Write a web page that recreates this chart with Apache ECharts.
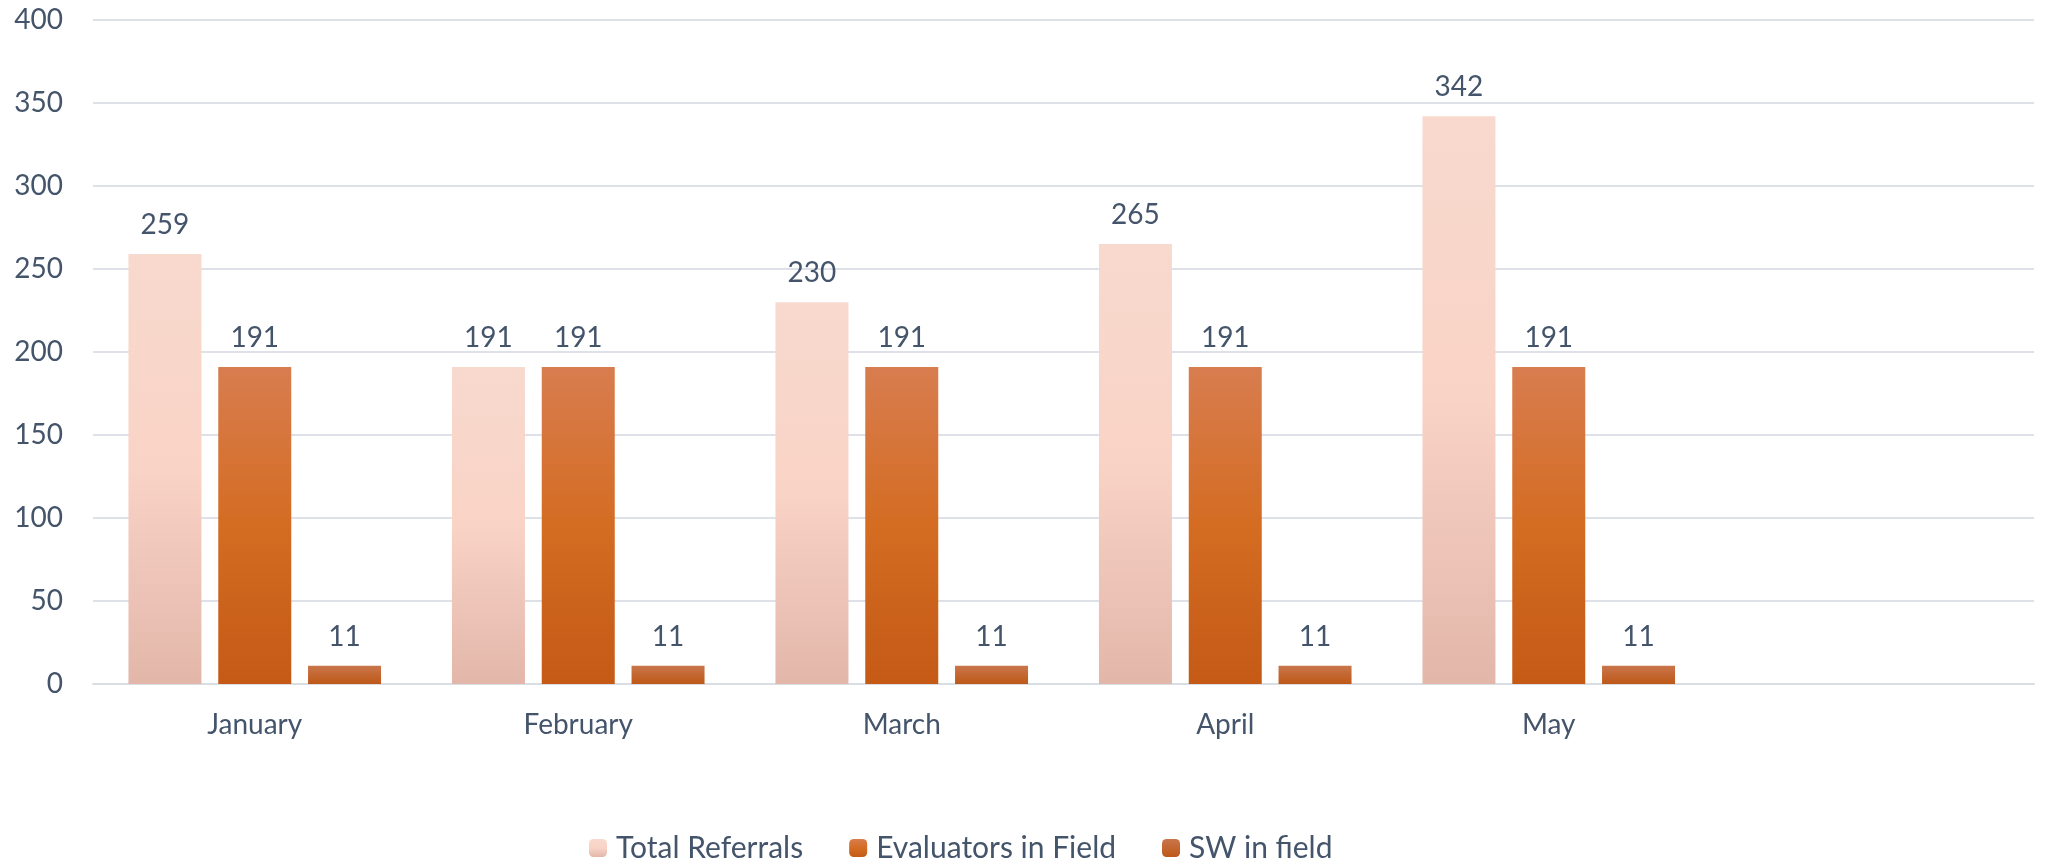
<!DOCTYPE html>
<html>
<head>
	<meta charset="utf-8">
	<title>Referrals</title>
	<script src="https://cdn.jsdelivr.net/npm/echarts@6/dist/echarts.min.js"></script>
	<style>
		html, body { margin: 0; padding: 0; background: #fff; }
	</style>
</head>
<body>
	<div id="container" style="width: 2047px;height:860px;"></div>

	<script type="text/javascript">

	// categories (last slot is empty in the original)
	var months = ['January', 'February', 'March', 'April', 'May', ''];
	var seriesNames = ['Total Referrals', 'Evaluators in Field', 'SW in field'];
	var totalReferrals = [259, 191, 230, 265, 342, null];
	var evaluators = [191, 191, 191, 191, 191, null];
	var swInField = [11, 11, 11, 11, 11, null];
	var yTicks = { min: 0, max: 400, interval: 50 };

	var textColor = '#44546A';
	var fontName = 'Lato';

	function grad(stops)
	{
		return new echarts.graphic.LinearGradient(0, 0, 0, 1, stops);
	}

	var fills = [
		grad([{offset: 0, color: '#F8D9CE'}, {offset: 0.5, color: '#F9D3C6'}, {offset: 1, color: '#E2B7AA'}]),
		grad([{offset: 0, color: '#D87D50'}, {offset: 0.5, color: '#D46C22'}, {offset: 1, color: '#C45A16'}]),
		grad([{offset: 0, color: '#C9764C'}, {offset: 1, color: '#BE5817'}])
	];

	function makeSeries(name, values, fill)
	{
		return {
			name: name,
			type: 'bar',
			data: values,
			barWidth: 73,
			barGap: '23%',
			itemStyle: { color: fill },
			label: {
				show: true,
				position: 'top',
				distance: 15,
				color: textColor,
				fontFamily: fontName,
				fontSize: 28
			}
		};
	}

	var myChart = echarts.init(document.getElementById('container'));
	myChart.setOption({
		animation: false,
		textStyle: { fontFamily: fontName },
		grid: { left: 93, right: 13, top: 20, bottom: 176 },
		legend: {
			data: seriesNames,
			left: 584,
			top: 828,
			itemWidth: 18,
			itemHeight: 18,
			itemGap: 46,
			textStyle: { color: textColor, fontFamily: fontName, fontSize: 30, padding: [0, 0, 0, 4] }
		},
		xAxis: {
			type: 'category',
			data: months,
			axisLine: { lineStyle: { color: '#D9DEE5', width: 2 } },
			axisTick: { show: false },
			axisLabel: { color: textColor, fontFamily: fontName, fontSize: 28, margin: 27 }
		},
		yAxis: {
			type: 'value',
			min: yTicks.min,
			max: yTicks.max,
			interval: yTicks.interval,
			axisLine: { show: false },
			axisTick: { show: false },
			splitLine: { lineStyle: { color: '#DEE2E8', width: 2 } },
			axisLabel: { color: textColor, fontFamily: fontName, fontSize: 28, margin: 30 }
		},
		series: [
			makeSeries(seriesNames[0], totalReferrals, fills[0]),
			makeSeries(seriesNames[1], evaluators, fills[1]),
			makeSeries(seriesNames[2], swInField, fills[2])
		]
	});

	</script>
</body>
</html>
